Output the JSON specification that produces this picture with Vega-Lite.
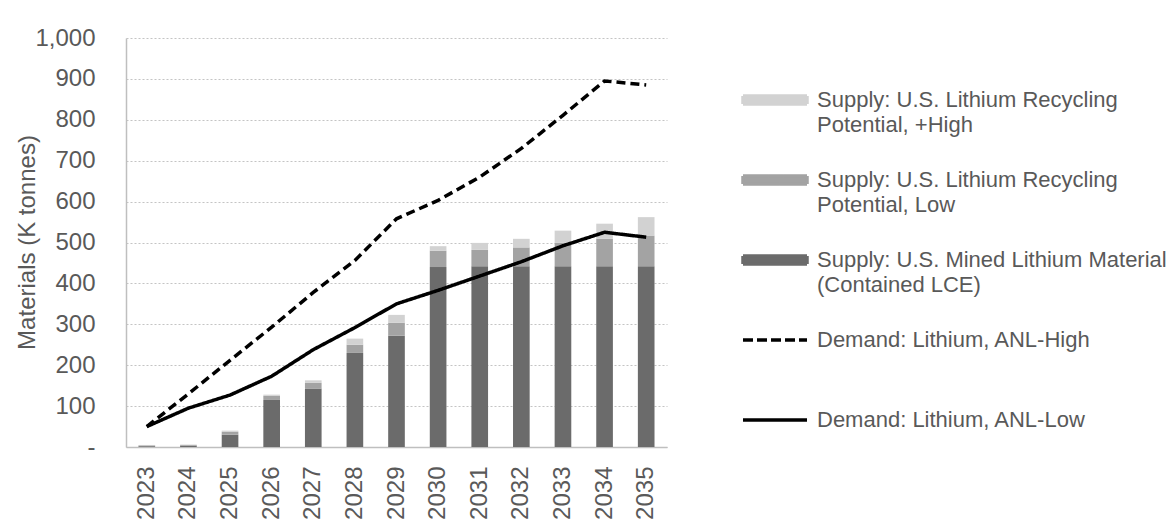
{
  "$schema": "https://vega.github.io/schema/vega-lite/v6.json",
  "width": 541,
  "height": 409,
  "autosize": "none",
  "padding": {"left": 126, "top": 38, "right": 508, "bottom": 80},
  "background": "white",
  "config": {
    "font": "Liberation Sans",
    "view": {"stroke": null}
  },
  "data": {
    "values": [
      {"year": "2023", "series": "Supply: U.S. Mined Lithium Material (Contained LCE)", "value": 2},
      {"year": "2023", "series": "Supply: U.S. Lithium Recycling Potential, Low", "value": 2},
      {"year": "2023", "series": "Supply: U.S. Lithium Recycling Potential, +High", "value": 1},
      {"year": "2024", "series": "Supply: U.S. Mined Lithium Material (Contained LCE)", "value": 3},
      {"year": "2024", "series": "Supply: U.S. Lithium Recycling Potential, Low", "value": 2},
      {"year": "2024", "series": "Supply: U.S. Lithium Recycling Potential, +High", "value": 1},
      {"year": "2025", "series": "Supply: U.S. Mined Lithium Material (Contained LCE)", "value": 30},
      {"year": "2025", "series": "Supply: U.S. Lithium Recycling Potential, Low", "value": 7},
      {"year": "2025", "series": "Supply: U.S. Lithium Recycling Potential, +High", "value": 3},
      {"year": "2026", "series": "Supply: U.S. Mined Lithium Material (Contained LCE)", "value": 115},
      {"year": "2026", "series": "Supply: U.S. Lithium Recycling Potential, Low", "value": 10},
      {"year": "2026", "series": "Supply: U.S. Lithium Recycling Potential, +High", "value": 3},
      {"year": "2027", "series": "Supply: U.S. Mined Lithium Material (Contained LCE)", "value": 143},
      {"year": "2027", "series": "Supply: U.S. Lithium Recycling Potential, Low", "value": 14},
      {"year": "2027", "series": "Supply: U.S. Lithium Recycling Potential, +High", "value": 6},
      {"year": "2028", "series": "Supply: U.S. Mined Lithium Material (Contained LCE)", "value": 230},
      {"year": "2028", "series": "Supply: U.S. Lithium Recycling Potential, Low", "value": 20},
      {"year": "2028", "series": "Supply: U.S. Lithium Recycling Potential, +High", "value": 15},
      {"year": "2029", "series": "Supply: U.S. Mined Lithium Material (Contained LCE)", "value": 272},
      {"year": "2029", "series": "Supply: U.S. Lithium Recycling Potential, Low", "value": 32},
      {"year": "2029", "series": "Supply: U.S. Lithium Recycling Potential, +High", "value": 19},
      {"year": "2030", "series": "Supply: U.S. Mined Lithium Material (Contained LCE)", "value": 440},
      {"year": "2030", "series": "Supply: U.S. Lithium Recycling Potential, Low", "value": 40},
      {"year": "2030", "series": "Supply: U.S. Lithium Recycling Potential, +High", "value": 11},
      {"year": "2031", "series": "Supply: U.S. Mined Lithium Material (Contained LCE)", "value": 442},
      {"year": "2031", "series": "Supply: U.S. Lithium Recycling Potential, Low", "value": 40},
      {"year": "2031", "series": "Supply: U.S. Lithium Recycling Potential, +High", "value": 17},
      {"year": "2032", "series": "Supply: U.S. Mined Lithium Material (Contained LCE)", "value": 442},
      {"year": "2032", "series": "Supply: U.S. Lithium Recycling Potential, Low", "value": 46},
      {"year": "2032", "series": "Supply: U.S. Lithium Recycling Potential, +High", "value": 21},
      {"year": "2033", "series": "Supply: U.S. Mined Lithium Material (Contained LCE)", "value": 442},
      {"year": "2033", "series": "Supply: U.S. Lithium Recycling Potential, Low", "value": 57},
      {"year": "2033", "series": "Supply: U.S. Lithium Recycling Potential, +High", "value": 30},
      {"year": "2034", "series": "Supply: U.S. Mined Lithium Material (Contained LCE)", "value": 442},
      {"year": "2034", "series": "Supply: U.S. Lithium Recycling Potential, Low", "value": 67},
      {"year": "2034", "series": "Supply: U.S. Lithium Recycling Potential, +High", "value": 37},
      {"year": "2035", "series": "Supply: U.S. Mined Lithium Material (Contained LCE)", "value": 442},
      {"year": "2035", "series": "Supply: U.S. Lithium Recycling Potential, Low", "value": 75},
      {"year": "2035", "series": "Supply: U.S. Lithium Recycling Potential, +High", "value": 45},
      {"year": "2023", "series": "Demand: Lithium, ANL-High", "value": 50},
      {"year": "2024", "series": "Demand: Lithium, ANL-High", "value": 130},
      {"year": "2025", "series": "Demand: Lithium, ANL-High", "value": 212},
      {"year": "2026", "series": "Demand: Lithium, ANL-High", "value": 293},
      {"year": "2027", "series": "Demand: Lithium, ANL-High", "value": 378},
      {"year": "2028", "series": "Demand: Lithium, ANL-High", "value": 456},
      {"year": "2029", "series": "Demand: Lithium, ANL-High", "value": 558},
      {"year": "2030", "series": "Demand: Lithium, ANL-High", "value": 603},
      {"year": "2031", "series": "Demand: Lithium, ANL-High", "value": 660},
      {"year": "2032", "series": "Demand: Lithium, ANL-High", "value": 730},
      {"year": "2033", "series": "Demand: Lithium, ANL-High", "value": 811},
      {"year": "2034", "series": "Demand: Lithium, ANL-High", "value": 895},
      {"year": "2035", "series": "Demand: Lithium, ANL-High", "value": 885},
      {"year": "2023", "series": "Demand: Lithium, ANL-Low", "value": 50},
      {"year": "2024", "series": "Demand: Lithium, ANL-Low", "value": 95},
      {"year": "2025", "series": "Demand: Lithium, ANL-Low", "value": 127},
      {"year": "2026", "series": "Demand: Lithium, ANL-Low", "value": 173},
      {"year": "2027", "series": "Demand: Lithium, ANL-Low", "value": 238},
      {"year": "2028", "series": "Demand: Lithium, ANL-Low", "value": 292},
      {"year": "2029", "series": "Demand: Lithium, ANL-Low", "value": 350},
      {"year": "2030", "series": "Demand: Lithium, ANL-Low", "value": 383},
      {"year": "2031", "series": "Demand: Lithium, ANL-Low", "value": 418},
      {"year": "2032", "series": "Demand: Lithium, ANL-Low", "value": 453},
      {"year": "2033", "series": "Demand: Lithium, ANL-Low", "value": 492},
      {"year": "2034", "series": "Demand: Lithium, ANL-Low", "value": 525},
      {"year": "2035", "series": "Demand: Lithium, ANL-Low", "value": 513}
    ]
  },
  "encoding": {
    "x": {
      "field": "year",
      "type": "ordinal",
      "title": null,
      "scale": {"paddingInner": 0.6, "paddingOuter": 0.3},
      "axis": {
        "labelAngle": 270,
        "labelAlign": "right",
        "labelBaseline": "middle",
        "labelFontSize": 24,
        "labelColor": "#595959",
        "labelPadding": 19,
        "ticks": false,
        "domainColor": "#bfbfbf",
        "domainWidth": 1.5,
        "grid": false
      }
    },
    "y": {
      "field": "value",
      "type": "quantitative",
      "title": "Materials (K tonnes)",
      "scale": {"domain": [0, 1000]},
      "axis": {
        "values": [0, 100, 200, 300, 400, 500, 600, 700, 800, 900, 1000],
        "labelExpr": "datum.value == 0 ? '-\u00a0\u00a0' : format(datum.value, ',')",
        "labelFontSize": 24,
        "labelColor": "#595959",
        "labelPadding": 31,
        "ticks": false,
        "domainColor": "#bfbfbf",
        "domainWidth": 1.5,
        "gridColor": "#c4c4c4",
        "gridDash": [2, 2],
        "gridWidth": 1.2,
        "titleFontSize": 24,
        "titleFontWeight": "normal",
        "titleColor": "#595959",
        "titleX": -99,
        "titleY": 204,
        "titleAlign": "center",
        "titleBaseline": "middle",
        "titleAngle": 270
      }
    }
  },
  "layer": [
    {
      "transform": [{"filter": "indexof(datum.series, 'Supply') == 0"}],
      "mark": {"type": "bar"},
      "encoding": {
        "y": {"field": "value", "type": "quantitative", "stack": "zero"},
        "color": {
          "field": "series",
          "type": "nominal",
          "scale": {
            "domain": [
              "Supply: U.S. Lithium Recycling Potential, +High",
              "Supply: U.S. Lithium Recycling Potential, Low",
              "Supply: U.S. Mined Lithium Material (Contained LCE)",
              "Demand: Lithium, ANL-High",
              "Demand: Lithium, ANL-Low"
            ],
            "range": ["#d2d2d2", "#a3a3a3", "#6b6b6b", "#000000", "#000000"]
          },
          "legend": {
            "orient": "none",
            "legendX": 615,
            "legendY": 28,
            "padding": 0,
            "title": null,
            "symbolSize": 4096,
            "labelFontSize": 22,
            "labelColor": "#595959",
            "labelLimit": 600,
            "labelOffset": 8,
            "rowPadding": 10,
            "labelExpr": "datum.label == 'Supply: U.S. Lithium Recycling Potential, +High' ? ['Supply: U.S. Lithium Recycling', 'Potential, +High'] : datum.label == 'Supply: U.S. Lithium Recycling Potential, Low' ? ['Supply: U.S. Lithium Recycling', 'Potential, Low'] : datum.label == 'Supply: U.S. Mined Lithium Material (Contained LCE)' ? ['Supply: U.S. Mined Lithium Material', '(Contained LCE)'] : [datum.label, ' ']",
            "encode": {
              "symbols": {
                "update": {
                  "shape": {"signal": "indexof(datum.value, 'Demand') == 0 ? 'M-1,0H1' : 'M-1,-0.125H1V0.125H-1Z'"},
                  "fill": {"signal": "datum.value == 'Supply: U.S. Lithium Recycling Potential, +High' ? '#d2d2d2' : datum.value == 'Supply: U.S. Lithium Recycling Potential, Low' ? '#a3a3a3' : datum.value == 'Supply: U.S. Mined Lithium Material (Contained LCE)' ? '#6b6b6b' : 'transparent'"},
                  "stroke": {"signal": "indexof(datum.value, 'Demand') == 0 ? '#000000' : 'transparent'"},
                  "strokeWidth": {"value": 3.5},
                  "strokeCap": {"value": "butt"},
                  "strokeDash": {"signal": "datum.value == 'Demand: Lithium, ANL-High' ? [10, 4] : [1, 0]"},
                  "opacity": {"value": 1}
                }
              },
              "labels": {
                "update": {
                  "lineHeight": {"value": 25}
                }
              }
            }
          }
        },
        "order": {"field": "series", "sort": "descending"}
      }
    },
    {
      "transform": [{"filter": "indexof(datum.series, 'Demand') == 0"}],
      "mark": {"type": "line", "strokeWidth": 3.5},
      "encoding": {
        "color": {"field": "series", "type": "nominal"},
        "strokeDash": {
          "field": "series",
          "type": "nominal",
          "scale": {
            "domain": ["Demand: Lithium, ANL-High", "Demand: Lithium, ANL-Low"],
            "range": [[9, 5], [1, 0]]
          },
          "legend": null
        }
      }
    }
  ]
}
